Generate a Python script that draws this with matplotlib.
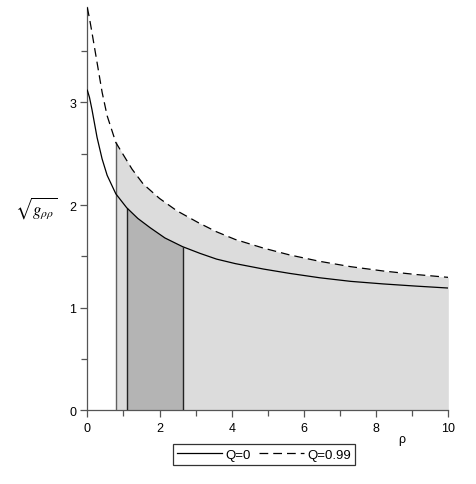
import numpy as np
import matplotlib
matplotlib.use("Agg")
import matplotlib.pyplot as plt
from matplotlib.ticker import MultipleLocator

# Q = 0 (solid)
rho_q0 = [0, 0.06, 0.13, 0.27, 0.41, 0.55, 0.79, 1.09, 1.40, 1.74, 2.15, 2.64,
          3.12, 3.58, 4.10, 4.88, 5.60, 6.44, 7.30, 8.20, 9.10, 10]
val_q0 = [3.12, 3.05, 2.93, 2.66, 2.45, 2.29, 2.11, 1.975, 1.87, 1.78, 1.68, 1.595,
          1.53, 1.474, 1.43, 1.377, 1.335, 1.292, 1.257, 1.232, 1.211, 1.192]

# Q = 0.99 (dashed)
rho_q99 = [0, 0.06, 0.13, 0.27, 0.41, 0.55, 0.79, 1.24, 1.55, 2.00, 2.48, 3.07,
           3.58, 4.10, 4.88, 5.60, 6.44, 7.30, 8.20, 9.10, 10]
val_q99 = [3.925, 3.82, 3.68, 3.39, 3.10, 2.87, 2.61, 2.35, 2.205, 2.065, 1.945, 1.83,
           1.74, 1.665, 1.581, 1.515, 1.452, 1.40, 1.358, 1.324, 1.296]

rho_light = 0.79   # start of light band
rho_dark = [1.09, 2.64]  # dark band limits

x_ticks = [0, 2, 4, 6, 8, 10]
y_ticks = [0, 1, 2, 3]

W, H = 476, 485
fig = plt.figure(figsize=(W / 100, H / 100), dpi=100)
ax = fig.add_axes([87.3 / W, 1 - 411.4 / H, (448.3 - 87.3) / W, (411.4 - 8) / H])

r0 = np.array(rho_q0); v0 = np.array(val_q0)
r9 = np.array(rho_q99); v9 = np.array(val_q99)

light = "#dcdcdc"
dark = "#b4b4b4"

m9 = r9 >= rho_light
ax.fill_between(r9[m9], 0, v9[m9], color=light, lw=0, zorder=1)
m0 = (r0 >= rho_dark[0]) & (r0 <= rho_dark[1])
ax.fill_between(r0[m0], 0, v0[m0], color=dark, lw=0, zorder=2)

# boundary lines
ax.vlines(rho_light, 0, v9[r9 == rho_light][0], color="#606060", lw=1.0, zorder=3)
for rb in rho_dark:
    ax.vlines(rb, 0, v0[r0 == rb][0], color="#222222", lw=1.0, zorder=3)

l1, = ax.plot(r0, v0, color="black", lw=0.9, zorder=4, label="Q=0")
l2, = ax.plot(r9, v9, color="black", lw=0.9, zorder=4, label="Q=0.99")
l2.set_dashes((7, 4))

ax.set_xlim(0, 10)
ax.set_ylim(0, 3.93)
for s in ["top", "right"]:
    ax.spines[s].set_visible(False)
for s in ["left", "bottom"]:
    ax.spines[s].set_color("#555555")
    ax.spines[s].set_linewidth(0.9)

ax.set_xticks(x_ticks)
ax.set_yticks(y_ticks)
ax.xaxis.set_minor_locator(MultipleLocator(1))
ax.yaxis.set_minor_locator(MultipleLocator(0.5))
ax.tick_params(which="major", direction="out", length=5, width=0.9, color="#555555",
               labelsize=9, pad=3)
ax.tick_params(which="minor", direction="out", length=4, width=0.9, color="#555555")
ax.set_xticklabels([str(t) for t in x_ticks], family="Liberation Sans")
ax.set_yticklabels([str(t) for t in y_ticks], family="Liberation Sans")

fig.text(36 / W, 1 - 208 / H, r"$\sqrt{g_{\rho\rho}}$", ha="center", va="center",
         fontsize=12, math_fontfamily="stix")
fig.text(402 / W, 1 - 440 / H, "ρ", ha="center", va="center", fontsize=9,
         family="Liberation Sans")

leg = fig.legend(handles=[l1, l2], loc="center", bbox_to_anchor=(264 / W, 1 - 455.5 / H),
                 ncol=2, frameon=True, fancybox=False, handlelength=3.4,
                 columnspacing=0.6, handletextpad=0.3, borderpad=0.3,
                 prop={"family": "Liberation Sans", "size": 9.5})
leg.get_frame().set_edgecolor("black")
leg.get_frame().set_linewidth(0.9)

fig.savefig("out.png", dpi=100)
